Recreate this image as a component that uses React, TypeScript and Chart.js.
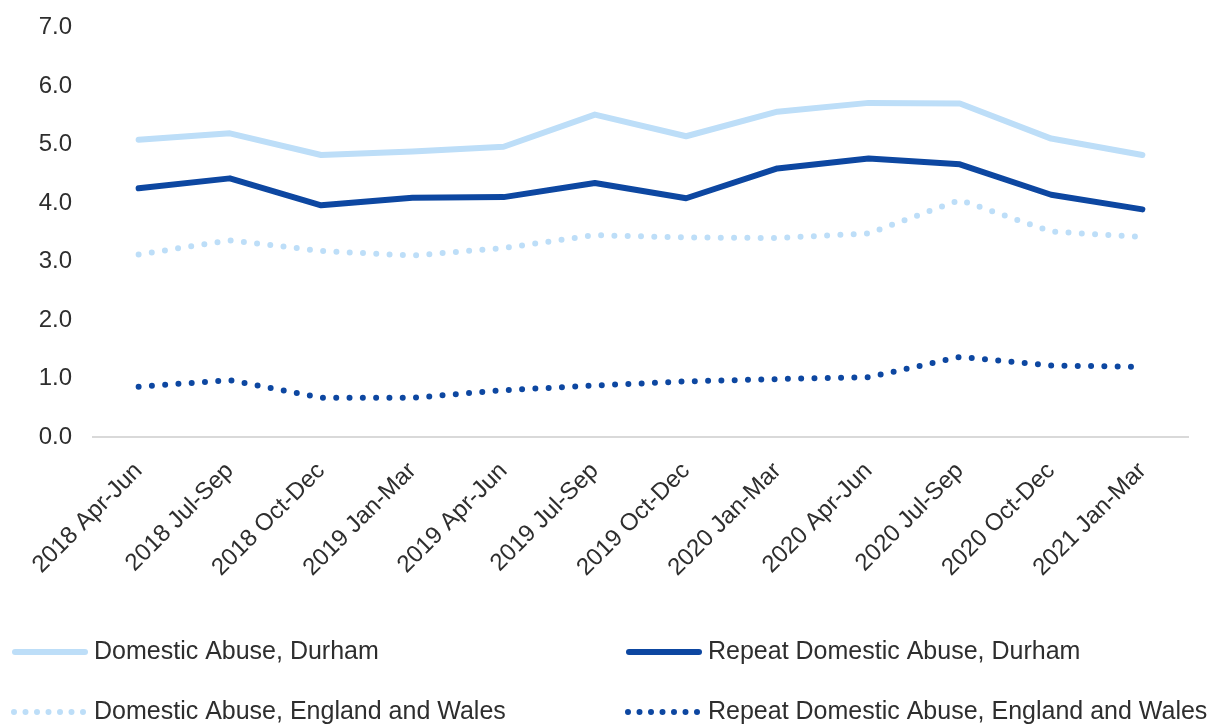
import React, { useEffect, useRef } from "react";
import { Chart, registerables } from "chart.js";

Chart.register(...registerables);

const categories = [
  "2018 Apr-Jun",
  "2018 Jul-Sep",
  "2018 Oct-Dec",
  "2019 Jan-Mar",
  "2019 Apr-Jun",
  "2019 Jul-Sep",
  "2019 Oct-Dec",
  "2020 Jan-Mar",
  "2020 Apr-Jun",
  "2020 Jul-Sep",
  "2020 Oct-Dec",
  "2021 Jan-Mar",
];

const domesticAbuseDurham = [5.08, 5.19, 4.82, 4.88, 4.96, 5.51, 5.14, 5.56, 5.71, 5.7, 5.1, 4.82];
const repeatDomesticAbuseDurham = [4.25, 4.42, 3.96, 4.09, 4.1, 4.34, 4.08, 4.59, 4.76, 4.66, 4.14, 3.89];
const domesticAbuseEW = [3.12, 3.36, 3.18, 3.1, 3.23, 3.45, 3.41, 3.4, 3.48, 4.05, 3.51, 3.42];
const repeatDomesticAbuseEW = [0.86, 0.97, 0.67, 0.67, 0.8, 0.88, 0.95, 0.99, 1.02, 1.37, 1.22, 1.2];

const seriesLabels = [
  "Domestic Abuse, Durham",
  "Repeat Domestic Abuse, Durham",
  "Domestic Abuse, England and Wales",
  "Repeat Domestic Abuse, England and Wales",
];

const LIGHT = "#BDDEF8";
const DARK = "#0D47A1";
const TEXT = "#2E2E2E";
const FONT = "'Liberation Sans', Arial, sans-serif";

const legendPlugin = {
  id: "customLegend",
  afterDraw(chart: any) {
    const ctx = chart.ctx;
    const cols = [12, 626];
    const rows = [652, 712];
    ctx.save();
    chart.data.datasets.forEach((ds: any, k: number) => {
      const x0 = cols[k % 2];
      const y = rows[Math.floor(k / 2)];
      ctx.beginPath();
      ctx.strokeStyle = ds.borderColor;
      ctx.lineWidth = ds.borderWidth;
      ctx.lineCap = "round";
      if (ds.borderDash && ds.borderDash.length) {
        ctx.setLineDash([0, 11.5]);
        ctx.moveTo(x0 + 2, y);
        ctx.lineTo(x0 + 75, y);
      } else {
        ctx.setLineDash([]);
        ctx.moveTo(x0 + 3, y);
        ctx.lineTo(x0 + 73, y);
      }
      ctx.stroke();
      ctx.setLineDash([]);
      ctx.fillStyle = TEXT;
      ctx.font = `25px ${FONT}`;
      ctx.textBaseline = "middle";
      ctx.textAlign = "left";
      ctx.fillText(ds.label, x0 + 82, y);
    });
    ctx.restore();
  },
};

export default function App() {
  const ref = useRef<HTMLCanvasElement | null>(null);

  useEffect(() => {
    if (!ref.current) return;
    const dotted = [0, 13.3];
    const common = {
      borderWidth: 6,
      borderJoinStyle: "round" as const,
      borderCapStyle: "round" as const,
      pointRadius: 0,
      pointHoverRadius: 0,
      tension: 0,
    };
    const chart = new Chart(ref.current, {
      type: "line",
      data: {
        labels: categories,
        datasets: [
          { ...common, label: seriesLabels[0], data: domesticAbuseDurham, borderColor: LIGHT, backgroundColor: LIGHT },
          { ...common, label: seriesLabels[1], data: repeatDomesticAbuseDurham, borderColor: DARK, backgroundColor: DARK },
          { ...common, label: seriesLabels[2], data: domesticAbuseEW, borderColor: LIGHT, backgroundColor: LIGHT, borderDash: dotted },
          { ...common, label: seriesLabels[3], data: repeatDomesticAbuseEW, borderColor: DARK, backgroundColor: DARK, borderDash: dotted },
        ],
      },
      options: {
        responsive: false,
        animation: false,
        layout: { padding: { top: 15, right: 35, bottom: 0, left: 0 } },
        plugins: {
          legend: { display: false },
          tooltip: { enabled: false },
        },
        scales: {
          x: {
            offset: true,
            grid: { display: false },
            border: { display: true, color: "#D9D9D9", width: 2 },
            ticks: {
              autoSkip: false,
              maxRotation: 45,
              minRotation: 45,
              padding: 12,
              color: TEXT,
              font: { family: FONT, size: 24 },
            },
            afterFit: (scale: any) => {
              scale.height = 289;
            },
          },
          y: {
            min: 0,
            max: 7,
            grid: { display: false },
            border: { display: false },
            ticks: {
              stepSize: 1,
              padding: 13,
              color: TEXT,
              font: { family: FONT, size: 24 },
              callback: (v: any) => Number(v).toFixed(1),
            },
            afterFit: (scale: any) => {
              scale.width = 93;
            },
          },
        },
      },
      plugins: [legendPlugin],
    });
    return () => chart.destroy();
  }, []);

  return (
    <div style={{ position: "absolute", left: 0, top: 0, width: 1223, height: 726, background: "#fff" }}>
      <canvas ref={ref} width={1223} height={726} style={{ display: "block" }} />
    </div>
  );
}
